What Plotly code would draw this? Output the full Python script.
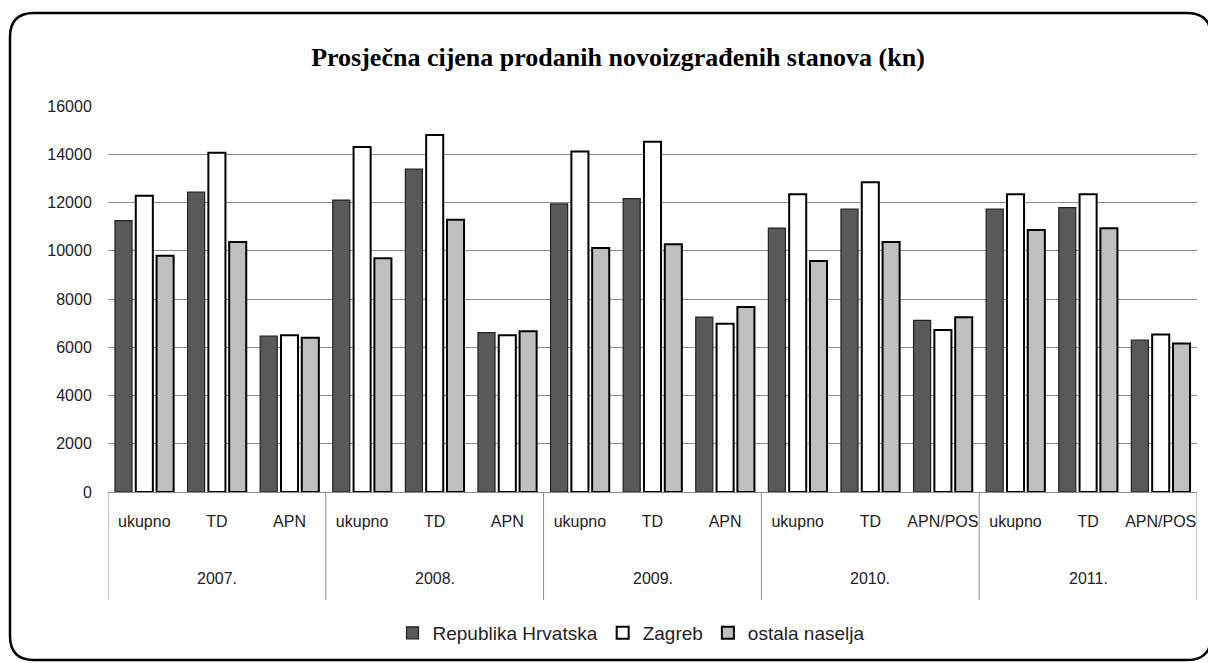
import plotly.graph_objects as go

years = ["2007.", "2008.", "2009.", "2010.", "2011."]
cats_by_year = [
    ["ukupno", "TD", "APN"],
    ["ukupno", "TD", "APN"],
    ["ukupno", "TD", "APN"],
    ["ukupno", "TD", "APN/POS"],
    ["ukupno", "TD", "APN/POS"],
]
republika_hrvatska = [11250, 12430, 6460, 12100, 13380, 6610, 11940, 12160, 7250,
                      10940, 11730, 7110, 11730, 11790, 6300]
zagreb = [12280, 14060, 6500, 14300, 14800, 6500, 14110, 14520, 6970,
          12340, 12840, 6710, 12340, 12340, 6530]
ostala_naselja = [9790, 10360, 6390, 9690, 11290, 6660, 10110, 10270, 7670,
                  9570, 10360, 7240, 10860, 10930, 6160]
y_ticks = [0, 2000, 4000, 6000, 8000, 10000, 12000, 14000, 16000]

# page body has an 8px margin; lay the figure out in page pixels minus that offset
OFF = 8
W, H = 1216 - OFF, 663 - OFF
L, R, T, B = 108 - OFF, 19, 106 - OFF, 663 - 492
pw = W - L - R
ph = H - T - B

# unique category keys, displayed with the sub-category names
keys, labels = [], []
group_bounds = [-0.5]
idx = 0
for yr, cs in zip(years, cats_by_year):
    for c in cs:
        keys.append(f"{yr} {c}")
        labels.append(c)
        idx += 1
    group_bounds.append(idx - 0.5)

font_main = "Liberation Sans, Arial, sans-serif"

fig = go.Figure()
fig.add_trace(go.Bar(name="Republika Hrvatska", x=keys, y=republika_hrvatska,
                     marker=dict(color="#595959", line=dict(color="#222222", width=1.2))))
fig.add_trace(go.Bar(name="Zagreb", x=keys, y=zagreb,
                     marker=dict(color="#ffffff", line=dict(color="#000000", width=2))))
fig.add_trace(go.Bar(name="ostala naselja", x=keys, y=ostala_naselja,
                     marker=dict(color="#bfbfbf", line=dict(color="#000000", width=2))))

def px2paper(px, py):
    fx, fy = px - OFF, py - OFF
    return (fx - L) / pw, (H - B - fy) / ph

def py2paper(py):
    return (H - B - (py - OFF)) / ph

x0, y0, x1, y1, r = 10, 13, 1211, 660, 24
def P(px, py):
    a, b = px2paper(px, py)
    return f"{a:.5f},{b:.5f}"
path = (f"M {P(x0 + r, y0)} L {P(x1 - r, y0)} Q {P(x1, y0)} {P(x1, y0 + r)} "
        f"L {P(x1, y1 - r)} Q {P(x1, y1)} {P(x1 - r, y1)} "
        f"L {P(x0 + r, y1)} Q {P(x0, y1)} {P(x0, y1 - r)} "
        f"L {P(x0, y0 + r)} Q {P(x0, y0)} {P(x0 + r, y0)} Z")

shapes = [dict(type="path", path=path, xref="paper", yref="paper",
               line=dict(color="#000", width=2.5), layer="below")]
for gb in group_bounds:
    shapes.append(dict(type="line", xref="x", yref="paper", x0=gb, x1=gb,
                       y0=0, y1=py2paper(600), line=dict(color="#8c8c8c", width=1)))

annotations = []
for i, yr in enumerate(years):
    cx = (group_bounds[i] + group_bounds[i + 1]) / 2
    annotations.append(dict(x=cx, xref="x", y=py2paper(578), yref="paper",
                            text=yr, showarrow=False, yanchor="middle",
                            font=dict(size=16, color="#222")))

fig.update_layout(
    width=W, height=H,
    margin=dict(l=L, r=R, t=T, b=B, pad=0, autoexpand=False),
    paper_bgcolor="white", plot_bgcolor="white",
    barmode="group", bargap=0.14, bargroupgap=0.18,
    title=dict(text="<b>Prosječna cijena prodanih novoizgrađenih stanova (kn)</b>",
               font=dict(family="Liberation Serif, Times New Roman, serif", size=26, color="#000"),
               x=(618 - OFF) / W, xanchor="center", xref="container",
               y=1 - (57 - OFF) / H, yanchor="middle", yref="container"),
    font=dict(family=font_main, size=16, color="#222"),
    legend=dict(orientation="h", x=(631 - OFF) / W, xanchor="center", xref="container",
                y=1 - (633 - OFF) / H, yanchor="middle", yref="container",
                font=dict(size=19, color="#222"), traceorder="normal"),
    shapes=shapes,
    annotations=annotations,
    showlegend=True,
)
fig.update_yaxes(range=[0, 16000], tickvals=y_ticks, ticktext=[str(v) for v in y_ticks],
                 showgrid=True, gridcolor="#8c8c8c", automargin=False,
                 gridwidth=1, showline=False, zeroline=False, ticks="outside",
                 ticklen=12, tickcolor="rgba(0,0,0,0)", tickfont=dict(size=16))
fig.update_xaxes(type="category", tickvals=keys, ticktext=labels,
                 range=[-0.5, len(keys) - 0.5],
                 showline=True, linecolor="#8c8c8c", linewidth=1,
                 ticks="outside", ticklen=15, tickcolor="rgba(0,0,0,0)", tickangle=0,
                 automargin=False, tickfont=dict(size=16), showgrid=False)

fig.write_html("out.html")
